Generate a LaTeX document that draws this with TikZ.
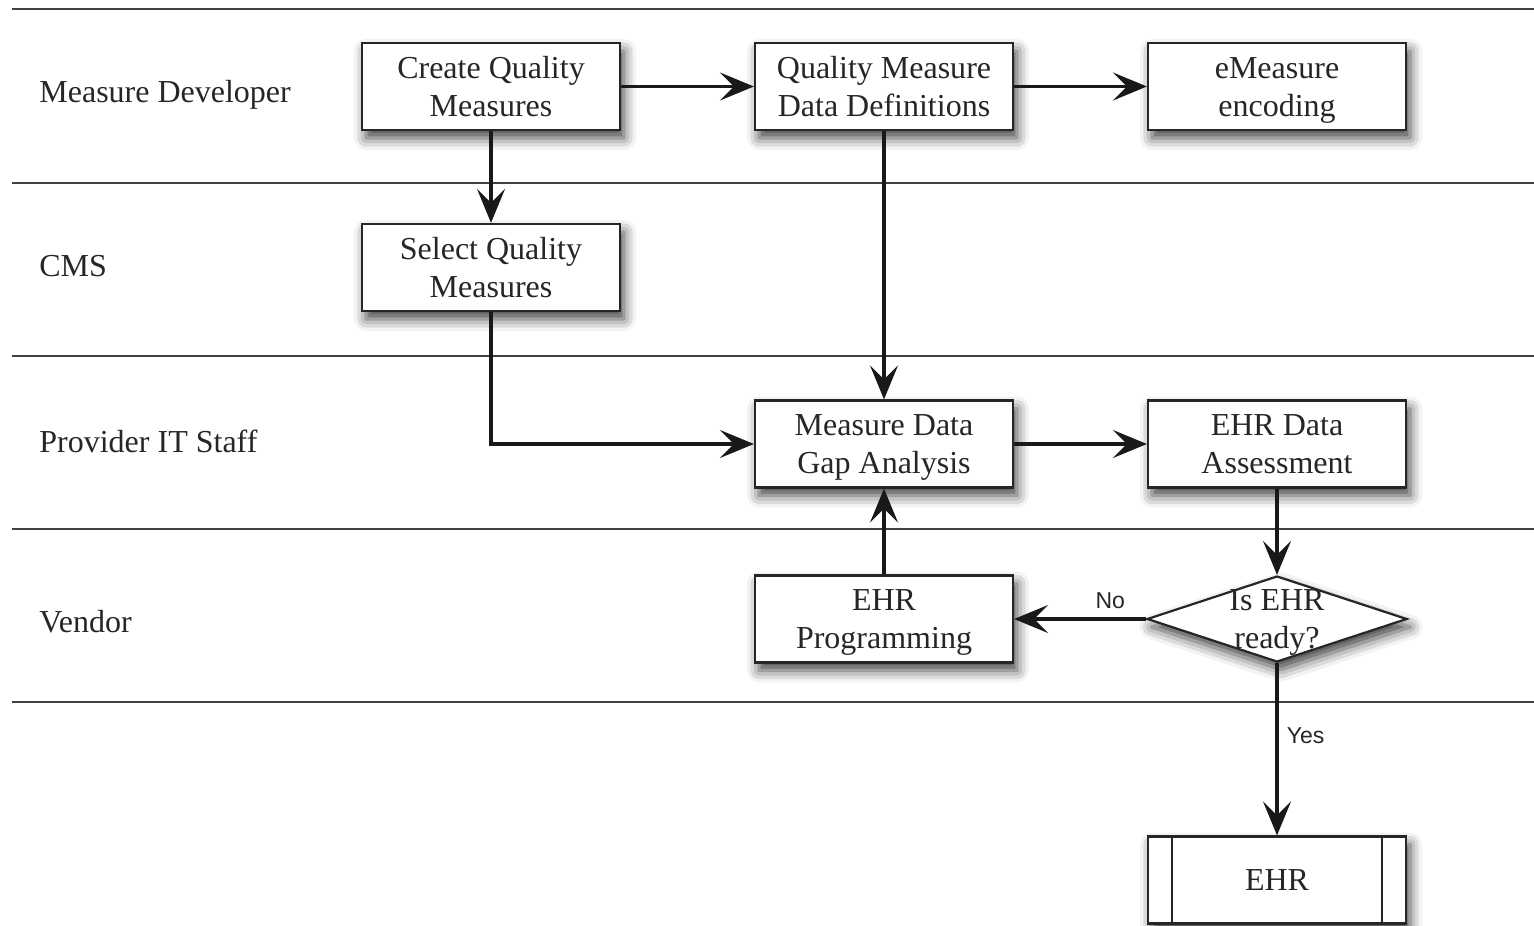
\documentclass[tikz,border=0pt]{standalone}
\usepackage{fontspec}
\setmainfont{Liberation Serif}
\newfontfamily\lblfont{Liberation Sans}
\usetikzlibrary{arrows.meta,shadows.blur,shapes.geometric,calc}
\newcommand\twoline[2]{\rule{0pt}{10.6pt}\smash{#1}\\\smash{#2}}
\newcommand\oneline[1]{\rule{0pt}{10.6pt}\smash{#1}}
\begin{document}
\begin{tikzpicture}[x=0.5pt,y=-0.5pt,
  lane/.style={draw=black!75,line width=1.1pt},
  shad/.style={blur shadow={shadow xshift=2pt,shadow yshift=-4pt,shadow blur radius=6pt,shadow opacity=75}},
  proc/.style={draw=black!85,line width=1.1pt,fill=white,minimum width=129pt,minimum height=43.5pt,inner sep=0pt,align=center,font=\fontsize{16}{19}\selectfont,text=black!85,shad},
  lanelabel/.style={anchor=base west,font=\fontsize{16}{19}\selectfont,text=black!85,inner sep=0pt},
  flow/.style={line width=1.8pt,draw=black!90,-{Stealth[length=17pt,width=14pt,inset=7pt]}},
  cond/.style={font=\lblfont\fontsize{11.5}{13}\selectfont,inner sep=1pt,text=black!85}
]
\useasboundingbox (0,0) rectangle (1534,925);

% lanes
\draw[lane] (12,9) -- (1534,9);
\draw[lane] (12,183) -- (1534,183);
\draw[lane] (12,356) -- (1534,356);
\draw[lane] (12,529) -- (1534,529);
\draw[lane] (12,702) -- (1534,702);

\node[lanelabel] (l1) at (39,103) {Measure Developer};
\node[lanelabel] (l2) at (39,276) {CMS};
\node[lanelabel] (l3) at (39,452) {Provider IT Staff};
\node[lanelabel] (l4) at (39,632) {Vendor};

% nodes
\node[proc] (cqm) at (491,86.5) {\twoline{Create Quality}{Measures}};
\node[proc] (qmdd) at (884,86.5) {\twoline{Quality Measure}{Data Definitions}};
\node[proc] (enc) at (1277,86.5) {\twoline{eMeasure}{encoding}};
\node[proc] (sqm) at (491,267.5) {\twoline{Select Quality}{Measures}};
\node[proc] (gap) at (884,444) {\twoline{Measure Data}{Gap Analysis}};
\node[proc] (ehrda) at (1277,444) {\twoline{EHR Data}{Assessment}};
\node[proc] (prog) at (884,619) {\twoline{EHR}{Programming}};
\node[diamond,draw=black!85,line width=1.1pt,fill=white,minimum width=130pt,minimum height=43pt,inner sep=0pt,shad] (dec) at (1277,619) {};
\node[align=center,font=\fontsize{16}{19}\selectfont,text=black!85,inner sep=0pt] (dectext) at (dec.center) {\twoline{Is EHR}{ready?}};
\node[proc] (ehr) at (1277,880) {\oneline{EHR}};
\draw[draw=black!85,line width=1.1pt] ($(ehr.north west)+(12.5pt,0)$) -- ($(ehr.south west)+(12.5pt,0)$);
\draw[draw=black!85,line width=1.1pt] ($(ehr.north east)+(-12.5pt,0)$) -- ($(ehr.south east)+(-12.5pt,0)$);

% connectors
\draw[flow] (cqm) -- (qmdd);
\draw[flow] (qmdd) -- (enc);
\draw[flow] (cqm) -- (sqm);
\draw[flow] (qmdd) -- (gap);
\draw[flow] (sqm.south) |- (gap.west);
\draw[flow] (gap) -- (ehrda);
\draw[flow] (ehrda) -- (dec.north);
\draw[flow] (dec.west) -- (prog.east) node[cond,pos=0.27,above=3pt] (no) {No};
\draw[flow] (prog) -- (gap);
\draw[flow] (dec.south) -- (ehr.north) node[cond,pos=0.42,right=3pt] (yes) {Yes};
\end{tikzpicture}
\end{document}
